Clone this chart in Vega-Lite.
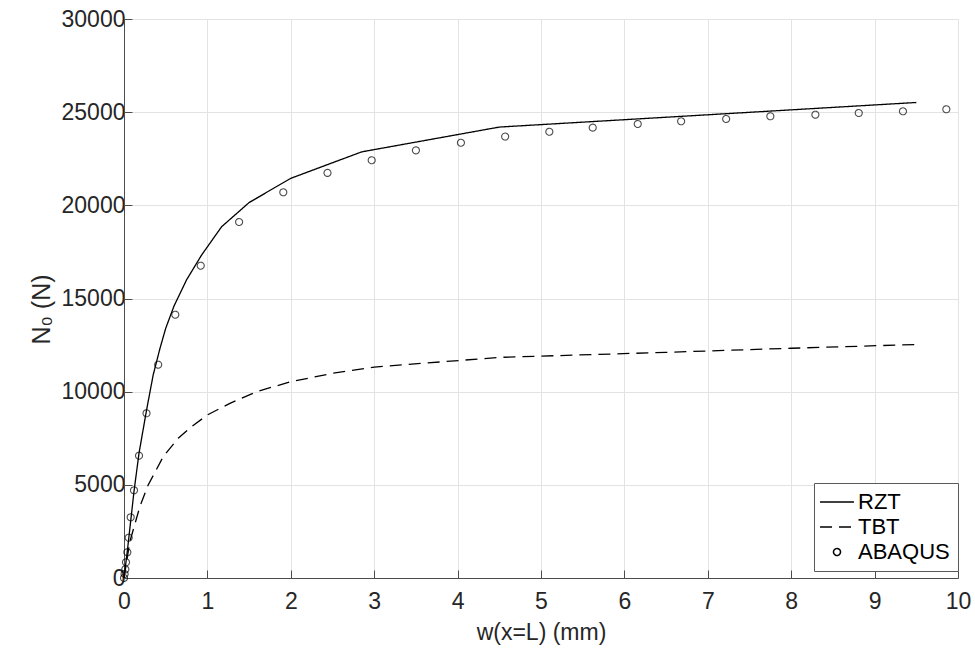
{
  "$schema": "https://vega.github.io/schema/vega-lite/v6.json",
  "width": 834,
  "height": 559,
  "autosize": {"type": "none"},
  "padding": {"left": 124, "top": 19, "right": 17, "bottom": 72},
  "background": "white",
  "config": {
    "view": {"stroke": null},
    "font": "Liberation Sans",
    "axis": {
      "labelFont": "Liberation Sans",
      "titleFont": "Liberation Sans",
      "labelFontSize": 23,
      "titleFontSize": 23,
      "titleFontWeight": "normal",
      "labelColor": "#262626",
      "titleColor": "#262626",
      "domainColor": "#4d4d4d",
      "tickColor": "#4d4d4d",
      "gridColor": "#e3e3e3",
      "gridWidth": 1,
      "tickSize": -8,
      "domainWidth": 1
    },
    "legend": {
      "labelFont": "Liberation Sans",
      "labelFontSize": 22
    }
  },
  "datasets": {
    "curves": [
      {"series": "RZT", "w": 0, "N": 0},
      {"series": "RZT", "w": 0.04, "N": 1450},
      {"series": "RZT", "w": 0.08, "N": 3050},
      {"series": "RZT", "w": 0.12, "N": 4650},
      {"series": "RZT", "w": 0.18, "N": 6700},
      {"series": "RZT", "w": 0.27, "N": 9000},
      {"series": "RZT", "w": 0.35, "N": 10900},
      {"series": "RZT", "w": 0.43, "N": 12300},
      {"series": "RZT", "w": 0.5, "N": 13400},
      {"series": "RZT", "w": 0.6, "N": 14600},
      {"series": "RZT", "w": 0.75, "N": 16000},
      {"series": "RZT", "w": 0.93, "N": 17330},
      {"series": "RZT", "w": 1.17, "N": 18850},
      {"series": "RZT", "w": 1.5, "N": 20150},
      {"series": "RZT", "w": 2.0, "N": 21450},
      {"series": "RZT", "w": 2.85, "N": 22870},
      {"series": "RZT", "w": 4.5, "N": 24200},
      {"series": "RZT", "w": 9.5, "N": 25520},
      {"series": "TBT", "w": 0, "N": 0},
      {"series": "TBT", "w": 0.07, "N": 1950},
      {"series": "TBT", "w": 0.19, "N": 3830},
      {"series": "TBT", "w": 0.29, "N": 4990},
      {"series": "TBT", "w": 0.47, "N": 6510},
      {"series": "TBT", "w": 0.65, "N": 7500},
      {"series": "TBT", "w": 0.81, "N": 8120},
      {"series": "TBT", "w": 1.0, "N": 8750},
      {"series": "TBT", "w": 1.27, "N": 9375},
      {"series": "TBT", "w": 1.59, "N": 10000},
      {"series": "TBT", "w": 2.0, "N": 10535},
      {"series": "TBT", "w": 2.5, "N": 10985},
      {"series": "TBT", "w": 3.0, "N": 11320},
      {"series": "TBT", "w": 4.5, "N": 11840},
      {"series": "TBT", "w": 6.5, "N": 12110},
      {"series": "TBT", "w": 8.0, "N": 12330},
      {"series": "TBT", "w": 9.5, "N": 12530}
    ],
    "abaqus": [
      {"series": "ABAQUS", "w": 0, "N": 0},
      {"series": "ABAQUS", "w": 0.007, "N": 215},
      {"series": "ABAQUS", "w": 0.016, "N": 467},
      {"series": "ABAQUS", "w": 0.024, "N": 843},
      {"series": "ABAQUS", "w": 0.04, "N": 1380},
      {"series": "ABAQUS", "w": 0.056, "N": 2163},
      {"series": "ABAQUS", "w": 0.08, "N": 3258},
      {"series": "ABAQUS", "w": 0.12, "N": 4707},
      {"series": "ABAQUS", "w": 0.18, "N": 6564},
      {"series": "ABAQUS", "w": 0.27, "N": 8840},
      {"series": "ABAQUS", "w": 0.41, "N": 11448},
      {"series": "ABAQUS", "w": 0.615, "N": 14131},
      {"series": "ABAQUS", "w": 0.92, "N": 16761},
      {"series": "ABAQUS", "w": 1.38, "N": 19106},
      {"series": "ABAQUS", "w": 1.91, "N": 20700},
      {"series": "ABAQUS", "w": 2.44, "N": 21740},
      {"series": "ABAQUS", "w": 2.97, "N": 22420},
      {"series": "ABAQUS", "w": 3.5, "N": 22950},
      {"series": "ABAQUS", "w": 4.04, "N": 23360},
      {"series": "ABAQUS", "w": 4.57, "N": 23690},
      {"series": "ABAQUS", "w": 5.1, "N": 23950},
      {"series": "ABAQUS", "w": 5.62, "N": 24170},
      {"series": "ABAQUS", "w": 6.16, "N": 24366},
      {"series": "ABAQUS", "w": 6.68, "N": 24510},
      {"series": "ABAQUS", "w": 7.22, "N": 24635},
      {"series": "ABAQUS", "w": 7.75, "N": 24780},
      {"series": "ABAQUS", "w": 8.29, "N": 24865},
      {"series": "ABAQUS", "w": 8.81, "N": 24955},
      {"series": "ABAQUS", "w": 9.34, "N": 25047},
      {"series": "ABAQUS", "w": 9.86, "N": 25155}
    ]
  },
  "encoding": {
    "x": {
      "field": "w",
      "type": "quantitative",
      "scale": {"domain": [0, 10], "nice": false, "zero": false},
      "axis": {
        "title": "w(x=L) (mm)",
        "values": [0, 1, 2, 3, 4, 5, 6, 7, 8, 9, 10],
        "format": "d",
        "labelPadding": 20,
        "titleY": 61,
        "titleBaseline": "alphabetic",
        "labelFlush": false
      }
    },
    "y": {
      "field": "N",
      "type": "quantitative",
      "scale": {"domain": [0, 30000], "nice": false},
      "axis": {
        "title": "N₀ (N)",
        "titleFontSize": 25,
        "values": [0, 5000, 10000, 15000, 20000, 25000, 30000],
        "format": "d",
        "labelPadding": 7,
        "titleX": -75,
        "titleY": 290,
        "titleAngle": -90,
        "titleAlign": "center",
        "titleBaseline": "alphabetic",
        "labelFlush": false
      }
    }
  },
  "layer": [
    {
      "data": {"name": "curves"},
      "mark": {"type": "line", "color": "black", "strokeWidth": 1.3, "clip": false},
      "encoding": {
        "strokeDash": {
          "field": "series",
          "type": "nominal",
          "scale": {"domain": ["RZT", "TBT", "ABAQUS"], "range": [[1, 0], [12, 7], [1, 0]]},
          "legend": {
            "title": null,
            "orient": "none",
            "legendX": 690,
            "legendY": 464,
            "padding": 8,
            "fillColor": "white",
            "strokeColor": "#5a5a5a",
            "symbolSize": 128,
            "symbolOffset": 4,
            "labelOffset": 10,
            "rowPadding": 3,
            "labelColor": "black",
            "encode": {
              "symbols": {
                "update": {
                  "fill": {"value": "transparent"},
                  "stroke": {"value": "black"},
                  "strokeWidth": {"value": 1.3},
                  "opacity": {"value": 1}
                }
              }
            }
          }
        },
        "shape": {
          "field": "series",
          "type": "nominal",
          "scale": {"domain": ["RZT", "TBT", "ABAQUS"], "range": ["M-3,0H3", "M-3,0H3", "M-0.62,0A0.62,0.62,0,1,0,0.62,0A0.62,0.62,0,1,0,-0.62,0Z"]}
        }
      }
    },
    {
      "data": {"name": "abaqus"},
      "mark": {"type": "point", "filled": false, "color": "black", "strokeWidth": 1.1, "size": 128, "clip": false},
      "encoding": {
        "shape": {"field": "series", "type": "nominal"},
        "strokeDash": {"field": "series", "type": "nominal"}
      }
    }
  ]
}
